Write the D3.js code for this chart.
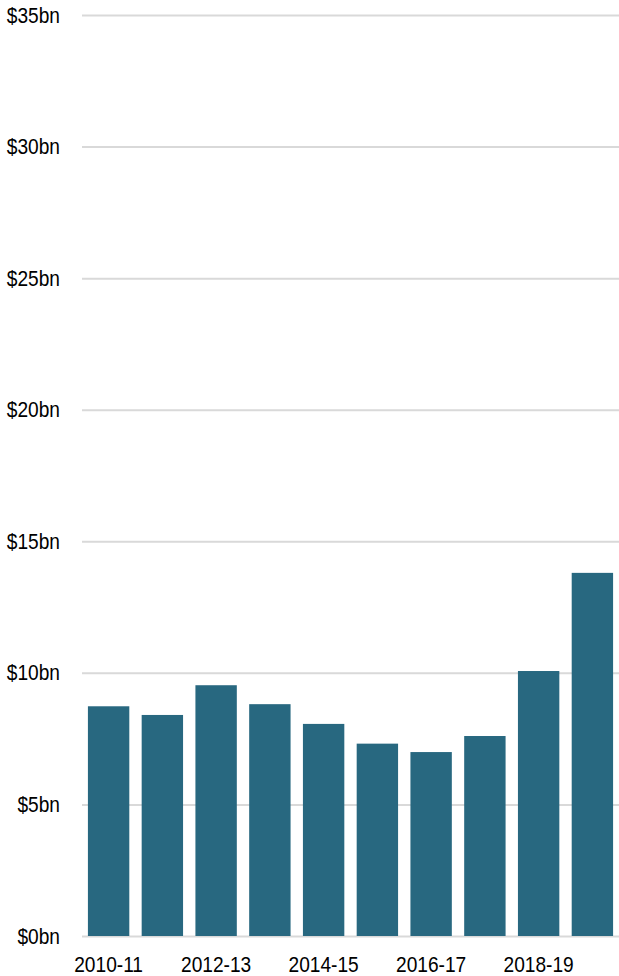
<!DOCTYPE html>
<html>
<head>
<meta charset="utf-8">
<script src="https://cdn.jsdelivr.net/npm/d3@7"></script>
<style>
  body { margin: 0; background: #fff; }
  .tick text { font-family: "Liberation Sans", Arial, sans-serif; font-size: 22px; fill: #000; }
</style>
</head>
<body>
<div id="chart"></div>
<script>
const years = ['2010-11', '2011-12', '2012-13', '2013-14', '2014-15', '2015-16', '2016-17', '2017-18', '2018-19', '2019-20'];
const values = [8.73, 8.40, 9.53, 8.81, 8.06, 7.31, 6.99, 7.60, 10.07, 13.80];
const yTicks = [0, 5, 10, 15, 20, 25, 30, 35];
const xLabels = ['2010-11', '2012-13', '2014-15', '2016-17', '2018-19'];

const width = 619;
const height = 976;
const squeeze = 0.87; // reference uses a narrow face

const x = d3.scaleBand().domain(years).range([82, 619]).paddingInner(0.23).paddingOuter(0.11);
const y = d3.scaleLinear().domain([0, 35]).range([936, 15]);

const svg = d3.select("#chart")
  .append("svg")
  .attr("width", width)
  .attr("height", height);

// gridlines + y labels
const yAxis = svg.append("g")
  .attr("transform", "translate(82,0)")
  .call(d3.axisLeft(y).tickValues(yTicks).tickSize(-(619 - 82)).tickPadding(22).tickFormat(d => "$" + d + "bn"));
yAxis.select(".domain").remove();
yAxis.selectAll(".tick line").attr("stroke", "#d9d9d9").attr("stroke-width", 2);
yAxis.selectAll(".tick text")
  .attr("x", -22 / squeeze)
  .attr("transform", "scale(" + squeeze + ",1)");

svg.selectAll("rect.bar")
  .data(values)
  .enter()
  .append("rect")
  .attr("class", "bar")
  .attr("x", (d, i) => x(years[i]))
  .attr("y", d => y(d))
  .attr("width", x.bandwidth())
  .attr("height", d => y(0) - y(d))
  .attr("fill", "#286880");

const xAxis = svg.append("g")
  .attr("transform", "translate(0," + y(0) + ")")
  .call(d3.axisBottom(x).tickValues(xLabels).tickSize(0).tickPadding(20));
xAxis.select(".domain").remove();
xAxis.selectAll(".tick text").attr("transform", "scale(" + squeeze + ",1)");
</script>
</body>
</html>
